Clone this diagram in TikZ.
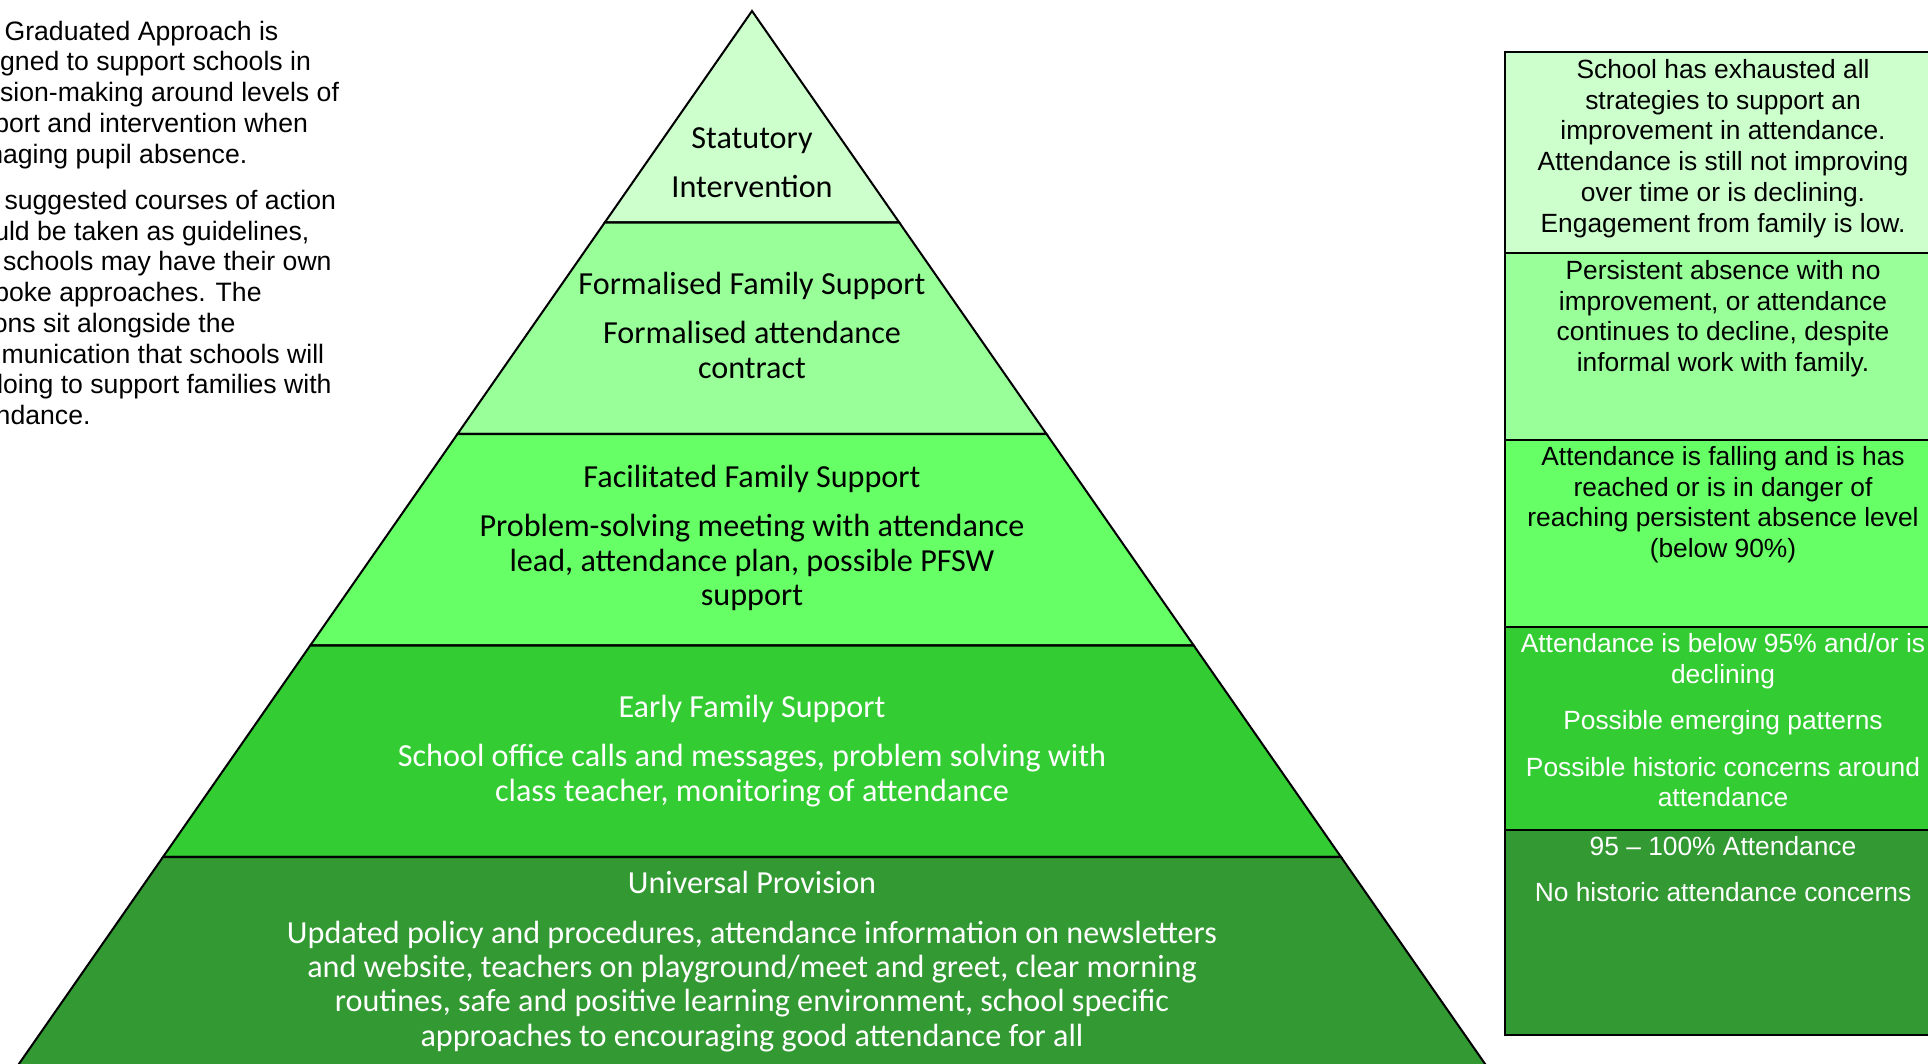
\documentclass[tikz,border=0pt]{standalone}
\usepackage{fontspec}
\newfontfamily\arialfont{Liberation Sans}
\newfontfamily\calibrifont{Carlito}
\definecolor{tierA}{HTML}{CCFFCC}
\definecolor{tierB}{HTML}{99FF99}
\definecolor{tierC}{HTML}{66FF66}
\definecolor{tierD}{HTML}{33CC33}
\definecolor{tierE}{HTML}{339933}
\tikzset{
  tier/.style={draw=black, line width=1.15pt, line join=miter},
  pyrtext/.style={anchor=north, inner sep=0pt, align=center,
    font=\calibrifont\fontsize{18.3}{19.6}\selectfont},
  sidetext/.style={anchor=north, inner sep=0pt, align=center,
    font=\arialfont\fontsize{15}{17.5}\selectfont},
}

\begin{document}
\begin{tikzpicture}[x=0.02cm,y=-0.02cm]
\useasboundingbox (0,0) rectangle (1928,1064);
\clip (0,0) rectangle (1928,1064);

% pyramid, top tier first
\foreach \col [count=\i from 0] in {tierA,tierB,tierC,tierD,tierE}
  \filldraw[tier,fill=\col] ({752-147.25*\i},{11+211.5*\i}) -- ({752+147.25*\i},{11+211.5*\i})
    -- ({752+147.25*(\i+1)},{11+211.5*(\i+1)}) -- ({752-147.25*(\i+1)},{11+211.5*(\i+1)}) -- cycle;

% column of criteria on the right
\foreach \col/\ytop/\ybot in {tierA/52/253,tierB/253/440,tierC/440/627,tierD/627/830,tierE/830/1035}
  \filldraw[tier,fill=\col] (1505,\ytop) rectangle (1960,\ybot);

% intro text
\node[anchor=north west, inner sep=0pt, align=left,
  font=\arialfont\fontsize{15.15}{17.5}\selectfont] (intro) at (-49,20.5)
  {The Graduated Approach is\\designed to support schools in\\decision-making around levels of\\support and intervention when\\managing pupil absence.\\[8.8pt]
   The suggested courses of action\\should be taken as guidelines,\\and schools may have their own\\bespoke approaches. The\\actions sit alongside the\\communication that schools will\\be doing to support families with\\attendance.};

% tier labels
\node[pyrtext] (stat) at (752,127) {Statutory\\[8.3pt]Intervention};
\node[pyrtext] (form) at (752,272.3) {Formalised Family Support\\[8.3pt]Formalised attendance\\contract};
\node[pyrtext] (faci) at (752,465.3) {Facilitated Family Support\\[8.3pt]Problem-solving meeting with attendance\\lead, attendance plan, possible PFSW\\support};
\node[pyrtext, text=white] (early) at (752,695.3) {Early Family Support\\[8.3pt]School office calls and messages, problem solving with\\class teacher, monitoring of attendance};
\node[pyrtext, text=white] (univ) at (752,871.3) {Universal Provision\\[8.3pt]Updated policy and procedures, attendance information on newsletters\\and website, teachers on playground/meet and greet, clear morning\\routines, safe and positive learning environment, school specific\\approaches to encouraging good attendance for all};

% criteria
\node[sidetext] (crit1) at (1723,59) {School has exhausted all\\strategies to support an\\improvement in attendance.\\Attendance is still not improving\\over time or is declining.\\Engagement from family is low.};
\node[sidetext] (crit2) at (1723,260) {Persistent absence with no\\improvement, or attendance\\continues to decline, despite\\informal work with family.};
\node[sidetext] (crit3) at (1723,446) {Attendance is falling and is has\\reached or is in danger of\\reaching persistent absence level\\(below 90\%)};
\node[sidetext, text=white] (crit4) at (1723,633.5) {Attendance is below 95\% and/or is\\declining\\[8.8pt]Possible emerging patterns\\[8.8pt]Possible historic concerns around\\attendance};
\node[sidetext, text=white] (crit5) at (1723,836) {95 – 100\% Attendance\\[8.8pt]No historic attendance concerns};
\end{tikzpicture}
\end{document}
